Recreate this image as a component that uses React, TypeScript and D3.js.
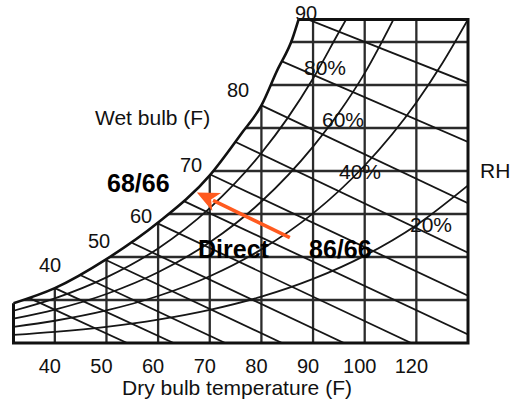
import React from "react";
import * as d3 from "d3";

// ---------- data ----------
// dry bulb gridline values (°F) and the labels printed under them
const dryBulbTicks = [40, 50, 60, 70, 80, 90, 100, 110];
const dryBulbTickLabels = ["40", "50", "60", "70", "80", "90", "100", "120"];
// humidity-ratio gridlines (lb/lb)
const humidityTicks = [0.004, 0.008, 0.012, 0.016, 0.02, 0.024, 0.028];

// saturation curve [dry bulb °F, humidity ratio]
const saturation: [number, number][] = [
  [32, 0.0037], [40, 0.0051], [50, 0.0078], [60, 0.0112], [70, 0.0156],
  [76, 0.0194], [80, 0.0221], [83, 0.0253], [86, 0.0283], [87.2, 0.0301],
];
// relative humidity curves
const rh80: [number, number][] = [
  [32, 0.003], [40, 0.00415], [50, 0.0061], [60, 0.0088], [70, 0.01255],
  [80, 0.01767], [85, 0.02087], [90, 0.0246], [95, 0.0289], [97, 0.0306],
];
const rh60: [number, number][] = [
  [32, 0.00226], [40, 0.00311], [50, 0.00456], [60, 0.00658], [70, 0.00937],
  [80, 0.01316], [90, 0.01827], [95, 0.02141], [100, 0.0251], [106, 0.0305],
];
const rh40: [number, number][] = [
  [32, 0.0015], [40, 0.00207], [50, 0.00303], [60, 0.00437], [70, 0.00621],
  [80, 0.00871], [90, 0.01206], [100, 0.01651], [110, 0.02238], [115, 0.026], [120, 0.0301],
];
const rh20: [number, number][] = [
  [32, 0.00075], [40, 0.00103], [50, 0.0015], [60, 0.00217], [70, 0.00308],
  [80, 0.00431], [90, 0.00596], [100, 0.00813], [110, 0.01096], [120, 0.01466],
];
const rhLabels = ["80%", "60%", "40%", "20%"];

// wet bulb lines: start [T, W] on saturation -> end [T, W]
const wetBulbStart: [number, number][] = [
  [35, 0.0042], [40, 0.0051], [45, 0.0063], [50, 0.0077], [55, 0.0093], [60, 0.0111],
  [65, 0.0132], [70, 0.0157], [75, 0.0187], [80, 0.0221], [84, 0.0262], [89, 0.0301],
];
const wetBulbEnd: [number, number][] = [
  [54, 0], [63, 0], [73, 0], [84, 0], [96, 0], [109, 0],
  [120, 0.0008], [120, 0.0044], [120, 0.0084], [120, 0.013], [120, 0.0187], [120, 0.0242],
];
const wetBulbLabels = ["40", "50", "60", "70", "80", "90"];

// process arrow: 86/66 -> 68/66
const arrowFrom: [number, number] = [85.5, 0.0098];
const arrowTo: [number, number] = [67.5, 0.014];
const stateLabels = ["68/66", "Direct", "86/66"];

// ---------- layout ----------
const WIDTH = 515;
const HEIGHT = 406;
const FONT = "'Liberation Sans', Arial, Helvetica, sans-serif";
const wetBulbLabelPos: [number, number][] = [
  [50, 272], [99, 248], [141, 223], [191, 172], [238, 97], [306, 20],
];
const rhLabelPos: [number, number][] = [[325, 75], [343, 127], [360, 179], [431, 232]];
const stateLabelPos: [number, number][] = [[107, 192], [198, 258], [309, 258]];

export default function App() {
  const x = d3.scaleLinear().domain([32, 120]).range([13.5, 468]);
  const y = d3.scaleLinear().domain([0, 0.0301]).range([343, 19.4]);
  const line = d3
    .line<[number, number]>()
    .x((d) => x(d[0]))
    .y((d) => y(d[1]))
    .curve(d3.curveMonotoneX);

  const satPath = line(saturation) as string;
  const x0 = x(32), x1 = x(120), yTop = y(0.0301), yBot = y(0);
  const clipD = `${satPath}L${x1},${yTop}L${x1},${yBot}L${x0},${yBot}Z`;
  const framePath = `M${x(saturation[saturation.length - 1][0])},${yTop}L${x1},${yTop}L${x1},${yBot}L${x0},${yBot}L${x0},${y(saturation[0][1])}`;

  const rhCurves = [rh80, rh60, rh40, rh20];

  // arrow geometry
  const ax0 = x(arrowFrom[0]), ay0 = y(arrowFrom[1]);
  const ax1 = x(arrowTo[0]), ay1 = y(arrowTo[1]);
  const ang = Math.atan2(ay1 - ay0, ax1 - ax0);
  const headLen = 22, headHalf = 10;
  const ux = Math.cos(ang), uy = Math.sin(ang);
  const bx = ax1 - ux * headLen, by = ay1 - uy * headLen;
  const nx = ax1 - ux * headLen * 0.72, ny = ay1 - uy * headLen * 0.72;
  const head = `M${ax1},${ay1}L${bx - uy * headHalf},${by + ux * headHalf}L${nx},${ny}L${bx + uy * headHalf},${by - ux * headHalf}Z`;

  const gridColor = "#2b2b2b";
  const curveColor = "#161616";

  return (
    <svg
      width={WIDTH}
      height={HEIGHT}
      viewBox={`0 0 ${WIDTH} ${HEIGHT}`}
      style={{ position: "absolute", left: 0, top: 0, background: "#fff" }}
      fontFamily={FONT}
    >
      <defs>
        <clipPath id="chartArea">
          <path d={clipD} />
        </clipPath>
      </defs>
      <rect width={WIDTH} height={HEIGHT} fill="#fff" />
      <g clipPath="url(#chartArea)">
        {dryBulbTicks.map((t) => (
          <line key={"v" + t} x1={x(t)} x2={x(t)} y1={yTop} y2={yBot} stroke={gridColor} strokeWidth={2.3} />
        ))}
        {humidityTicks.map((w) => (
          <line key={"h" + w} x1={x0} x2={x1} y1={y(w)} y2={y(w)} stroke={gridColor} strokeWidth={2.3} />
        ))}
        {rhCurves.map((c, i) => (
          <path key={"rh" + i} d={line(c) as string} fill="none" stroke={curveColor} strokeWidth={1.8} />
        ))}
        {wetBulbStart.map((s, i) => (
          <line
            key={"wb" + i}
            x1={x(s[0])}
            y1={y(s[1])}
            x2={x(wetBulbEnd[i][0])}
            y2={y(wetBulbEnd[i][1])}
            stroke={curveColor}
            strokeWidth={1.8}
          />
        ))}
      </g>
      <path d={satPath} fill="none" stroke="#111" strokeWidth={2.6} />
      <path d={framePath} fill="none" stroke="#111" strokeWidth={3} />

      {/* x tick labels */}
      {dryBulbTicks.map((t, i) => (
        <text key={"xt" + t} x={x(t) - 5} y={373} textAnchor="middle" fontSize={20} fill="#111">
          {dryBulbTickLabels[i]}
        </text>
      ))}
      <text x={237} y={395} textAnchor="middle" fontSize={21} fill="#111">
        Dry bulb temperature (F)
      </text>

      {/* wet bulb labels */}
      {wetBulbLabels.map((l, i) => (
        <text key={"wl" + l} x={wetBulbLabelPos[i][0]} y={wetBulbLabelPos[i][1]} textAnchor="middle" fontSize={20} fill="#111">
          {l}
        </text>
      ))}
      <text x={95} y={125} fontSize={21} fill="#111">Wet bulb (F)</text>

      {/* RH labels */}
      {rhLabels.map((l, i) => (
        <text key={"rl" + l} x={rhLabelPos[i][0]} y={rhLabelPos[i][1]} textAnchor="middle" fontSize={21} fill="#111">
          {l}
        </text>
      ))}
      <text x={480} y={178} fontSize={21} fill="#111">RH</text>

      {/* arrow */}
      <line x1={ax0} y1={ay0} x2={bx + ux * 4} y2={by + uy * 4} stroke="#ff5a1f" strokeWidth={3.5} />
      <path d={head} fill="#ff5a1f" />

      {/* state labels */}
      {stateLabels.map((l, i) => (
        <text key={"sl" + l} x={stateLabelPos[i][0]} y={stateLabelPos[i][1]} fontSize={25} fontWeight="bold" fill="#000">
          {l}
        </text>
      ))}
    </svg>
  );
}
